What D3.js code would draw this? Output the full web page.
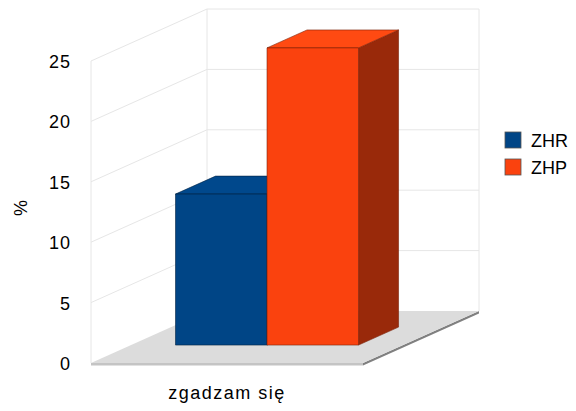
<!DOCTYPE html>
<html>
<head>
<meta charset="utf-8">
<script src="https://cdn.jsdelivr.net/npm/d3@7"></script>
<style>
  body { margin: 0; background: #fff; }
  text { font-family: "Liberation Sans", Arial, sans-serif; fill: #000; }
</style>
</head>
<body>
<div id="chart"></div>
<script>
// data
var categories = ['zgadzam się'];
var seriesNames = ['ZHR', 'ZHP'];
var seriesValues = [[12.5], [24.6]];
var yTicks = [0, 5, 10, 15, 20, 25];

var colors = {
	ZHR: { front: '#004586', top: '#00488c', side: '#002a52' },
	ZHP: { front: '#fa420e', top: '#ff4a12', side: '#99290a' }
};

var W = 576, H = 411;
var svg = d3.select('#chart').append('svg')
	.attr('width', W)
	.attr('height', H);

// front plane scales + depth vector
var x = d3.scaleBand().domain(categories).range([91, 363]).paddingInner(0).paddingOuter(0);
var y = d3.scaleLinear().domain([0, 25]).range([363, 61]);
var depth = { dx: 116, dy: -52 };

function proj(px, v, t) {
	return [px + depth.dx * t, y(v) + depth.dy * t];
}
function poly(pts) {
	return pts.map(function(p) { return p.join(','); }).join(' ');
}

var grid = '#e6e6e6';

// left wall gridlines
yTicks.forEach(function(v) {
	if (v === 0) return;
	var a = proj(91, v, 0), b = proj(91, v, 1);
	svg.append('line')
		.attr('x1', a[0]).attr('y1', a[1])
		.attr('x2', b[0]).attr('y2', b[1])
		.attr('stroke', grid).attr('stroke-width', 1);
	// back wall
	var c = proj(363, v, 1);
	svg.append('line')
		.attr('x1', b[0]).attr('y1', b[1])
		.attr('x2', c[0]).attr('y2', c[1])
		.attr('stroke', grid).attr('stroke-width', 1);
});

// wall edges
var lt = proj(91, 25, 0), lb = proj(91, 0, 0);
var bt = proj(91, 25, 1), bb = proj(91, 0, 1);
var rt = proj(363, 25, 1), rb = proj(363, 0, 1);
[[lt, lb], [bt, bb], [rt, rb]].forEach(function(l) {
	svg.append('line')
		.attr('x1', l[0][0]).attr('y1', l[0][1])
		.attr('x2', l[1][0]).attr('y2', l[1][1])
		.attr('stroke', grid);
});

// floor slab
var f1 = proj(91, 0, 0), f2 = proj(363, 0, 0), f3 = proj(363, 0, 1), f4 = proj(91, 0, 1);
var th = 2.5;
svg.append('polygon')
	.attr('points', poly([f1, f2, [f2[0], f2[1] + th], [f1[0], f1[1] + th]]))
	.attr('fill', '#c4c4c4');
svg.append('polygon')
	.attr('points', poly([f2, f3, [f3[0], f3[1] + th], [f2[0], f2[1] + th]]))
	.attr('fill', '#808080');
svg.append('polygon')
	.attr('points', poly([f1, f2, f3, f4]))
	.attr('fill', '#dcdcdc');

// bars
var groupW = 183;
var barW = groupW / seriesNames.length;
var t0 = 0.345, t1 = 0.69;

categories.forEach(function(cat, ci) {
	var cx = x(cat) + x.bandwidth() / 2;
	var gx = cx - groupW / 2;
	seriesNames.forEach(function(name, si) {
		var v = seriesValues[si][ci];
		var xl = gx + si * barW, xr = xl + barW;
		var c = colors[name];
		var edge = d3.color(c.side).darker(0.6);
		var g = svg.append('g');
		// side face
		g.append('polygon')
			.attr('points', poly([proj(xr, 0, t0), proj(xr, v, t0), proj(xr, v, t1), proj(xr, 0, t1)]))
			.attr('fill', c.side).attr('stroke', edge).attr('stroke-width', 0.6);
		// top face
		g.append('polygon')
			.attr('points', poly([proj(xl, v, t0), proj(xr, v, t0), proj(xr, v, t1), proj(xl, v, t1)]))
			.attr('fill', c.top).attr('stroke', edge).attr('stroke-width', 0.6);
		// front face
		g.append('polygon')
			.attr('points', poly([proj(xl, 0, t0), proj(xr, 0, t0), proj(xr, v, t0), proj(xl, v, t0)]))
			.attr('fill', c.front).attr('stroke', edge).attr('stroke-width', 0.6);
	});
});

// y tick labels
svg.selectAll('.ytick')
	.data(yTicks)
	.enter().append('text')
	.attr('class', 'ytick')
	.attr('x', 71)
	.attr('y', function(d) { return y(d) + 7; })
	.attr('text-anchor', 'end')
	.attr('font-size', 18)
	.attr('letter-spacing', 1)
	.text(function(d) { return d; });

// y axis title
svg.append('text')
	.attr('transform', 'translate(27,208) rotate(-90)')
	.attr('text-anchor', 'middle')
	.attr('font-size', 18)
	.text('%');

// category label
svg.selectAll('.xlab')
	.data(categories)
	.enter().append('text')
	.attr('class', 'xlab')
	.attr('x', function(d) { return x(d) + x.bandwidth() / 2; })
	.attr('y', 399)
	.attr('text-anchor', 'middle')
	.attr('font-size', 18)
	.attr('letter-spacing', 1.5)
	.text(function(d) { return d; });

// legend
var leg = svg.append('g').attr('transform', 'translate(505,132)');
seriesNames.forEach(function(name, i) {
	var row = leg.append('g').attr('transform', 'translate(0,' + (i * 27) + ')');
	row.append('rect')
		.attr('width', 16).attr('height', 16)
		.attr('fill', colors[name].front)
		.attr('stroke', '#555').attr('stroke-width', 0.8);
	row.append('text')
		.attr('x', 26).attr('y', 14.5)
		.attr('font-size', 18)
		.text(name);
});
</script>
</body>
</html>
